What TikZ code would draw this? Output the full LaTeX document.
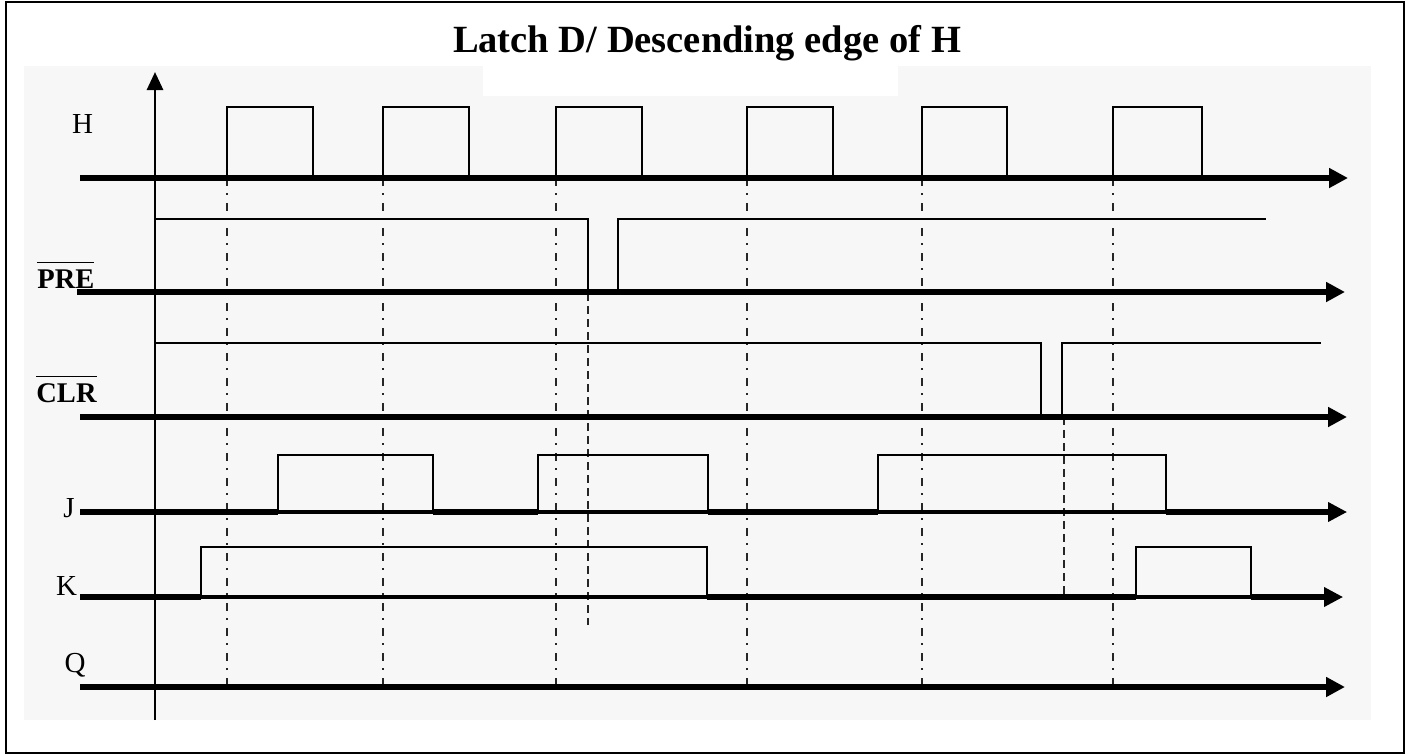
\documentclass[tikz,border=0pt]{standalone}
\usepackage{fontspec}
\setmainfont{Liberation Serif}
\usetikzlibrary{arrows.meta}
\definecolor{bgray}{HTML}{F7F7F7}
\begin{document}
\begin{tikzpicture}[x=1pt,y=-1pt,
  base/.style={line width=6pt,-{Triangle[length=19pt,width=19pt]}},
  thinbase/.style={line width=4pt,-{Triangle[length=19pt,width=19pt]}},
  low/.style={line width=6.5pt},
  sig/.style={line width=2.8pt,line join=miter,line cap=rect},
  gridline/.style={line width=2.3pt,draw=black!85,dash pattern=on 8pt off 7pt on 2pt off 8pt},
  dashline/.style={line width=2.3pt,draw=black!85,dash pattern=on 8pt off 5pt},
  lab/.style={inner sep=0pt,anchor=base,font=\fontsize{29}{31}\selectfont},
  blab/.style={inner sep=0pt,anchor=base,font=\fontsize{28.5}{31}\selectfont\bfseries}]
\useasboundingbox (0,0) rectangle (1409,755);
\fill[white] (0,0) rectangle (1409,755);
\fill[bgray] (24,66) rectangle (1371,720);
\fill[white] (483,66) rectangle (898,96);
\draw[line width=2.8pt] (6,2) rectangle (1404,753);

\node[inner sep=0pt,anchor=base,font=\fontsize{38.5}{42}\selectfont\bfseries] (title) at (707,52) {Latch D/ Descending edge of H};

% vertical axis
\coordinate (ax0) at (155,720);
\coordinate (ax1) at (155,72);
\draw[line width=2.8pt,-{Triangle[length=18pt,width=16pt]}] (ax0) -- (ax1);

% dash-dot guide lines at rising edges of H
\foreach \x in {227,383,556,747,922,1113}{
  \coordinate (g\x a) at (\x,178);
  \coordinate (g\x b) at (\x,688);
  \draw[gridline] (g\x a) -- (g\x b);
}
% dashed guide lines
\coordinate (d1a) at (588,293); \coordinate (d1b) at (588,625);
\coordinate (d2a) at (1064,417); \coordinate (d2b) at (1064,597);
\draw[dashline] (d1a) -- (d1b);
\draw[dashline] (d2a) -- (d2b);

% H
\foreach \a/\b in {227/313,383/469,556/642,747/833,922/1007,1113/1202}
  \draw[sig] (\a,178) -- (\a,107) -- (\b,107) -- (\b,178);
\coordinate (Hs) at (80,178); \coordinate (He) at (1348,178);
\draw[base] (Hs) -- (He);

% PRE
\draw[sig] (155,219) -- (588,219) -- (588,292);
\draw[sig] (618,292) -- (618,219) -- (1265,219);
\coordinate (Ps) at (77,292); \coordinate (Pe) at (1345,292);
\draw[base] (Ps) -- (Pe);

% CLR
\draw[sig] (155,343) -- (1041,343) -- (1041,417);
\draw[sig] (1062,417) -- (1062,343) -- (1320,343);
\coordinate (Cs) at (80,417); \coordinate (Ce) at (1347,417);
\draw[base] (Cs) -- (Ce);

% J
\foreach \a/\b in {278/433,538/708,878/1166}
  \draw[sig] (\a,512) -- (\a,455) -- (\b,455) -- (\b,512);
\coordinate (Js) at (80,512); \coordinate (Je) at (1347,512);
\draw[thinbase] (Js) -- (Je);
\foreach \a/\b in {80/278,433/538,708/878,1166/1330}
  \draw[low] (\a,512) -- (\b,512);

% K
\foreach \a/\b in {201/707,1136/1251}
  \draw[sig] (\a,597) -- (\a,547) -- (\b,547) -- (\b,597);
\coordinate (Ks) at (80,597); \coordinate (Ke) at (1343,597);
\draw[thinbase] (Ks) -- (Ke);
\foreach \a/\b in {80/201,707/1136,1251/1326}
  \draw[low] (\a,597) -- (\b,597);

% Q
\coordinate (Qs) at (80,687); \coordinate (Qe) at (1345,687);
\draw[base] (Qs) -- (Qe);

% labels
\node[lab] (lH) at (82.5,133) {H};
\node[blab] (lP) at (66,288) {$\overline{\mbox{\rule{0pt}{24pt}PRE}}$};
\node[blab] (lC) at (66.5,402) {$\overline{\mbox{\rule{0pt}{24pt}CLR}}$};
\node[lab] (lJ) at (69,517) {J};
\node[lab] (lK) at (66.5,595) {K};
\node[lab] (lQ) at (75,672) {Q};
\end{tikzpicture}
\end{document}
